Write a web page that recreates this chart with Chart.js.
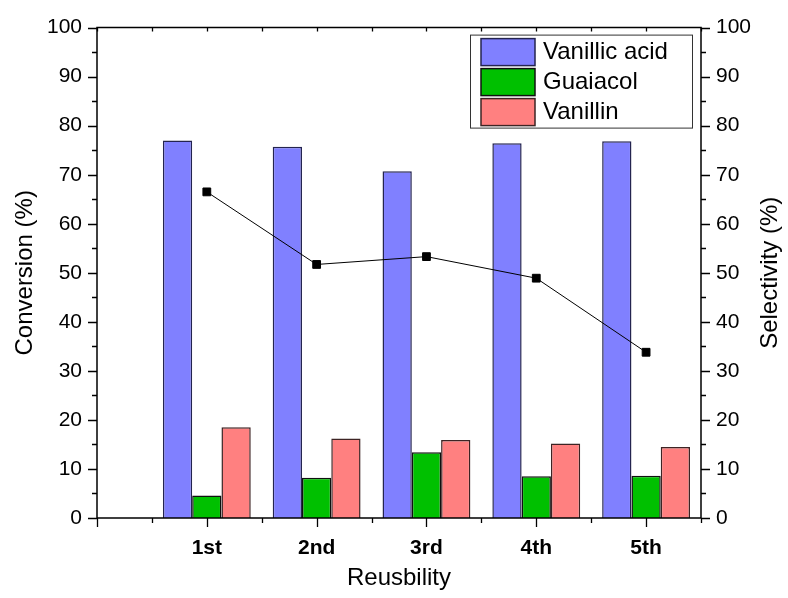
<!DOCTYPE html>
<html>
<head>
<meta charset="utf-8">
<script src="https://cdn.jsdelivr.net/npm/chart.js@4.4.1/dist/chart.umd.min.js"></script>
<style>
  html, body { margin: 0; padding: 0; background: #fff; }
  #wrap { width: 788px; height: 598px; }
</style>
</head>
<body>
<div id="wrap"><canvas id="c" width="788" height="598"></canvas></div>
<script>
// Catalyst reuse runs
const cycles = ['1st', '2nd', '3rd', '4th', '5th'];
const cyclePos = [1, 2, 3, 4, 5];

// Product yields per run (conversion axis, %)
const vanillicAcid = [77.0, 75.7, 70.7, 76.4, 76.8];
const guaiacol = [4.6, 8.2, 13.4, 8.5, 8.6];
const vanillin = [18.5, 16.2, 15.9, 15.2, 14.5];

// Selectivity per run (right axis, %)
const selectivity = [66.5, 51.7, 53.3, 48.9, 33.8];

// Axis ranges / tick steps
const xMin = 0, xMax = 5.5;
const yTicks = [0, 10, 20, 30, 40, 50, 60, 70, 80, 90, 100];
const rightTitle = 'Selectivity (%)';

const FONT = "'Liberation Sans', Arial, sans-serif";

const pts = vals => cyclePos.map((x, i) => ({ x, y: vals[i] }));

// Frame, tick marks, right-hand title and legend box
const framePlugin = {
  id: 'frame',
  afterDatasetsDraw(chart) {
    const ctx = chart.ctx;
    const { left, right, top, bottom } = chart.chartArea;
    const xs = chart.scales.x, yl = chart.scales.y, yr = chart.scales.y2;
    ctx.save();
    ctx.strokeStyle = '#000';
    ctx.lineWidth = 1.5;
    ctx.beginPath();
    ctx.rect(left, top, right - left, bottom - top);
    ctx.stroke();

    ctx.lineWidth = 1.3;
    ctx.beginPath();
    for (let v = xMin; v <= xMax + 1e-9; v += 0.5) {
      const px = Math.round(xs.getPixelForValue(v)) + 0.5;
      const len = Number.isInteger(v) ? 9 : 5;
      ctx.moveTo(px, bottom); ctx.lineTo(px, bottom + len);
      ctx.moveTo(px, top); ctx.lineTo(px, top + 4);
    }
    for (let v = 0; v <= 100; v += 5) {
      const len = v % 10 === 0 ? 9 : 5;
      const py1 = Math.round(yl.getPixelForValue(v)) + 0.5;
      ctx.moveTo(left, py1); ctx.lineTo(left - len, py1);
      const py2 = Math.round(yr.getPixelForValue(v)) + 0.5;
      ctx.moveTo(right, py2); ctx.lineTo(right + len, py2);
    }
    ctx.stroke();

    // right axis title, reading bottom to top
    ctx.save();
    ctx.translate(770, (top + bottom) / 2);
    ctx.rotate(-Math.PI / 2);
    ctx.font = '24px ' + FONT;
    ctx.fillStyle = '#000';
    ctx.textAlign = 'center';
    ctx.textBaseline = 'middle';
    ctx.fillText(rightTitle, 0, 0);
    ctx.restore();

    // legend
    const bars = chart.data.datasets.filter(d => d.type === 'bar');
    const boxW = 222, rowH = 30;
    const bx = right - 9 - boxW, by = top + 7;
    const boxH = rowH * bars.length + 3;
    ctx.fillStyle = '#fff';
    ctx.fillRect(bx, by, boxW, boxH);
    ctx.lineWidth = 1;
    ctx.strokeStyle = '#333';
    ctx.strokeRect(bx + 0.5, by + 0.5, boxW, boxH);
    ctx.font = '24px ' + FONT;
    ctx.textBaseline = 'middle';
    ctx.textAlign = 'left';
    bars.forEach((d, i) => {
      const sy = by + 4 + i * rowH;
      ctx.fillStyle = d.backgroundColor;
      ctx.fillRect(bx + 11, sy, 54, 27);
      ctx.lineWidth = 1.5;
      ctx.strokeStyle = d.borderColor;
      ctx.strokeRect(bx + 11, sy, 54, 27);
      ctx.fillStyle = '#000';
      ctx.fillText(d.label, bx + 73, sy + 14);
    });
    ctx.restore();
  }
};

new Chart(document.getElementById('c'), {
  type: 'bar',
  data: {
    datasets: [
      {
        type: 'line', label: 'Selectivity', data: pts(selectivity), yAxisID: 'y2',
        borderColor: '#000', borderWidth: 1, pointStyle: 'rect', pointRadius: 5.5,
        pointBackgroundColor: '#000', pointBorderColor: '#000', pointBorderWidth: 1,
        tension: 0, fill: false, order: 0
      },
      {
        type: 'bar', label: 'Vanillic acid', data: pts(vanillicAcid), yAxisID: 'y',
        backgroundColor: '#8080FF', borderColor: '#24244f', borderWidth: 1.5, order: 1
      },
      {
        type: 'bar', label: 'Guaiacol', data: pts(guaiacol), yAxisID: 'y',
        backgroundColor: '#00C000', borderColor: '#101010', borderWidth: 1.5, order: 1
      },
      {
        type: 'bar', label: 'Vanillin', data: pts(vanillin), yAxisID: 'y',
        backgroundColor: '#FF8080', borderColor: '#3d2424', borderWidth: 1.5, order: 1
      }
    ]
  },
  options: {
    responsive: false,
    animation: false,
    layout: { padding: { top: 25, left: 0, right: 0, bottom: 0 } },
    datasets: { bar: { categoryPercentage: 0.8, barPercentage: 1.0 } },
    plugins: { legend: { display: false }, tooltip: { enabled: false } },
    scales: {
      x: {
        type: 'linear', min: xMin, max: xMax, position: 'bottom', offset: false,
        grid: { display: false, drawTicks: false },
        border: { display: false },
        ticks: {
          stepSize: 1, includeBounds: false, autoSkip: false, maxRotation: 0,
          padding: 18, color: '#000', font: { family: FONT, size: 21, weight: 'bold' },
          callback: v => (Number.isInteger(v) && v >= 1 && v <= cycles.length) ? cycles[v - 1] : ''
        },
        title: { display: true, text: 'Reusbility', color: '#000',
          font: { family: FONT, size: 24 }, padding: { top: 0, bottom: 5 } },
        afterFit: s => { s.height = 80; }
      },
      y: {
        position: 'left', min: 0, max: 100,
        grid: { display: false, drawTicks: false },
        border: { display: false },
        afterBuildTicks: s => { s.ticks = yTicks.map(v => ({ value: v })); },
        ticks: { padding: 15, color: '#000', font: { family: FONT, size: 21 } },
        title: { display: true, text: 'Conversion (%)', color: '#000',
          font: { family: FONT, size: 24 }, padding: { top: 11, bottom: 0 } },
        afterFit: s => { s.width = 97; }
      },
      y2: {
        position: 'right', min: 0, max: 100,
        grid: { display: false, drawTicks: false },
        border: { display: false },
        afterBuildTicks: s => { s.ticks = yTicks.map(v => ({ value: v })); },
        ticks: { padding: 15, color: '#000', font: { family: FONT, size: 21 } },
        title: { display: false },
        afterFit: s => { s.width = 87; }
      }
    }
  },
  plugins: [framePlugin]
});
</script>
</body>
</html>
